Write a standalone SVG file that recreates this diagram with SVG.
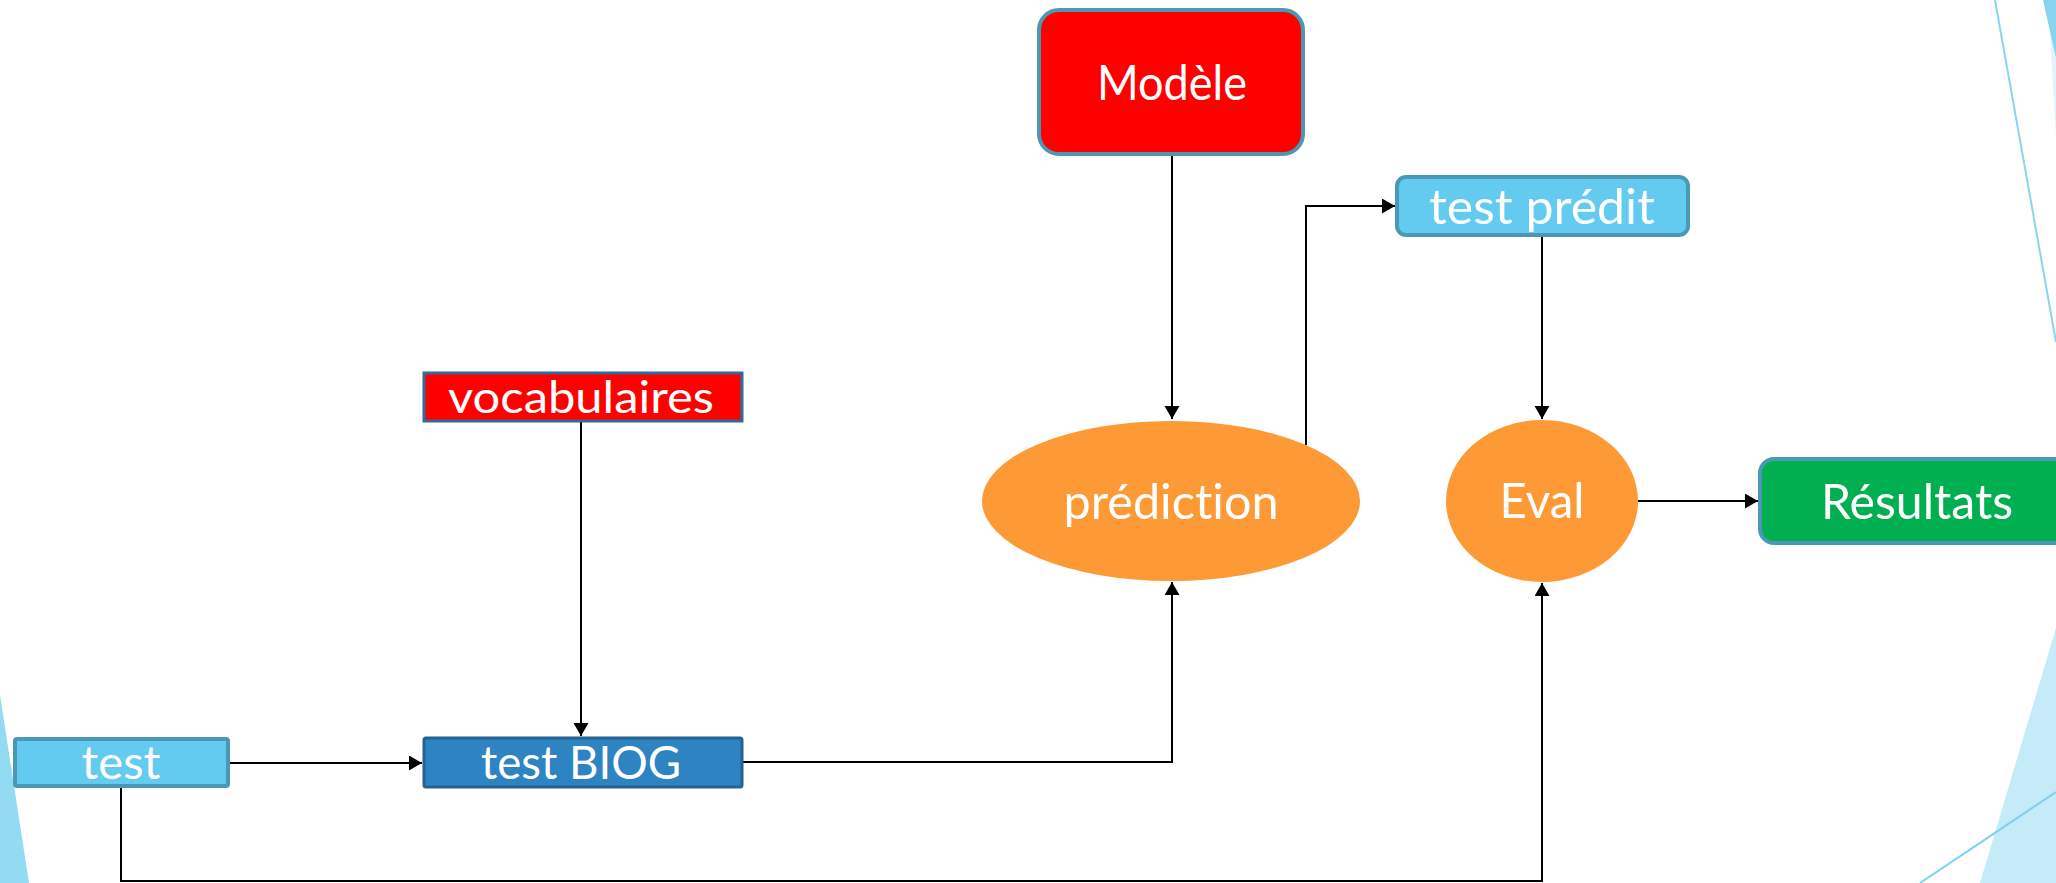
<svg xmlns="http://www.w3.org/2000/svg" width="2056" height="883" viewBox="0 0 2056 883">
  <defs>
    <marker id="arrow" markerUnits="userSpaceOnUse" markerWidth="14" markerHeight="16" refX="13" refY="7.5" orient="auto">
      <path d="M0,0 L13,7.5 L0,15 z" fill="#000"/>
    </marker>
    <style>
      .lbl { font-family: Lato, "Open Sans", "Liberation Sans", sans-serif; fill: #fff; text-anchor: middle; font-variant-ligatures: none; }
      .edge { fill: none; stroke: #000; stroke-width: 2; }
      .teal { stroke: #4a98b4; stroke-width: 4; }
      .deco { fill: #93daf3; }
    </style>
  </defs>

  <rect width="2056" height="883" fill="#fff"/>

  <!-- corner decorations -->
  <g id="decor">
    <polygon class="deco" points="0,695 29,883 0,883"/>
    <polygon points="1980,883 2056,628 2056,883" fill="#c5ebf8"/>
    <line x1="1920" y1="883" x2="2056" y2="792" stroke="#7fd0ee" stroke-width="2"/>
    <line x1="1995" y1="0" x2="2056" y2="342" stroke="#8ad6f1" stroke-width="2"/>
    <polygon points="2048,0 2056,0 2056,135" fill="#e0f4fb"/>
    <polygon points="2043,0 2056,0 2056,58" fill="#86d4f0"/>
  </g>

  <!-- connectors -->
  <g id="connectors">
    <path class="edge" d="M1172,155 V419" marker-end="url(#arrow)"/>
    <path class="edge" d="M581,422 V736" marker-end="url(#arrow)"/>
    <path class="edge" d="M229,763 H422" marker-end="url(#arrow)"/>
    <path class="edge" d="M743,762 H1172 V582" marker-end="url(#arrow)"/>
    <path class="edge" d="M1306,445 V206 H1395" marker-end="url(#arrow)"/>
    <path class="edge" d="M1542,237 V419" marker-end="url(#arrow)"/>
    <path class="edge" d="M1638,501 H1758" marker-end="url(#arrow)"/>
    <path class="edge" d="M121,787 V881 H1542 V583" marker-end="url(#arrow)"/>
  </g>

  <g id="modele">
    <rect class="teal" x="1039" y="10" width="264" height="144" rx="20" fill="#ff0000"/>
    <text class="lbl" x="1172" y="100" font-size="49" textLength="150" lengthAdjust="spacingAndGlyphs">Modèle</text>
  </g>

  <g id="test-predit">
    <rect class="teal" x="1397" y="177" width="291" height="58" rx="9" fill="#62cbef"/>
    <text class="lbl" x="1542" y="224" font-size="48" textLength="226" lengthAdjust="spacingAndGlyphs">test prédit</text>
  </g>

  <g id="vocabulaires">
    <rect x="424" y="373" width="318" height="48" fill="#ff0000" stroke="#2e6c9b" stroke-width="3"/>
    <text class="lbl" x="581" y="413" font-size="44" textLength="266" lengthAdjust="spacingAndGlyphs">vocabulaires</text>
  </g>

  <g id="prediction">
    <ellipse cx="1171" cy="501" rx="189" ry="80" fill="#fd9a35"/>
    <text class="lbl" x="1171" y="519" font-size="48" textLength="215" lengthAdjust="spacingAndGlyphs">prédiction</text>
  </g>

  <g id="eval">
    <ellipse cx="1542" cy="501" rx="96" ry="81" fill="#fd9a35"/>
    <text class="lbl" x="1542" y="518" font-size="49" textLength="85" lengthAdjust="spacingAndGlyphs">Eval</text>
  </g>

  <g id="resultats">
    <rect class="teal" x="1760" y="459" width="320" height="84" rx="14" fill="#00b050"/>
    <text class="lbl" x="1917" y="519" font-size="49" textLength="192" lengthAdjust="spacingAndGlyphs">Résultats</text>
  </g>

  <g id="test">
    <rect class="teal" x="15" y="739" width="213" height="47" rx="2" fill="#62cbef"/>
    <text class="lbl" x="121" y="779" font-size="47" textLength="79" lengthAdjust="spacingAndGlyphs">test</text>
  </g>

  <g id="test-biog">
    <rect x="424" y="738" width="318" height="49" rx="2" fill="#2e83c3" stroke="#25628f" stroke-width="3"/>
    <text class="lbl" x="581" y="779" font-size="47" textLength="200" lengthAdjust="spacingAndGlyphs">test BIOG</text>
  </g>
</svg>
